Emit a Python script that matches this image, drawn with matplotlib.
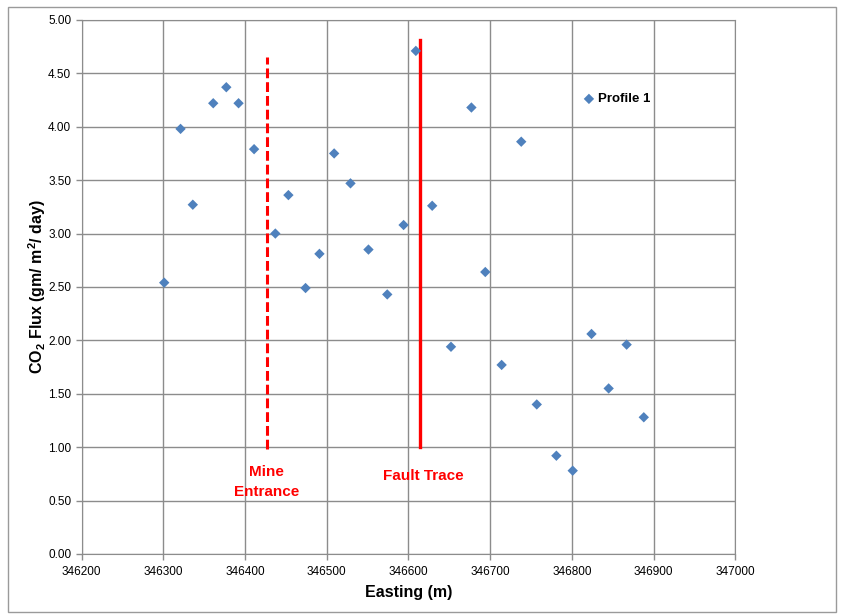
import matplotlib
matplotlib.use('Agg')
from matplotlib import pyplot as plt
from matplotlib.patches import Rectangle

plt.rcParams['font.family'] = ['Liberation Sans', 'DejaVu Sans']
plt.rcParams['mathtext.default'] = 'regular'

# Profile 1 survey points
easting = [346301, 346321, 346336, 346361, 346377, 346392, 346411, 346437,
           346453, 346474, 346491, 346509, 346529, 346551, 346574, 346594,
           346609, 346629, 346652, 346677, 346694, 346714, 346738, 346757,
           346781, 346801, 346824, 346845, 346867, 346888]
flujo_co2 = [2.54, 3.98, 3.27, 4.22, 4.37, 4.22, 3.79, 3.00,
             3.36, 2.49, 2.81, 3.75, 3.47, 2.85, 2.43, 3.08,
             4.71, 3.26, 1.94, 4.18, 2.64, 1.77, 3.86, 1.40,
             0.92, 0.78, 2.06, 1.55, 1.96, 1.28]

# vertical markers: mine entrance (dashed) and fault trace (solid)
entrada_mina_x = 346427
entrada_mina_y = [0.98, 4.65]
falla_x = 346614
falla_y = [1.0, 4.81]

xticks = [346200, 346300, 346400, 346500, 346600, 346700, 346800, 346900, 347000]
yticks = [0.0, 0.5, 1.0, 1.5, 2.0, 2.5, 3.0, 3.5, 4.0, 4.5, 5.0]

fig = plt.figure(figsize=(8.44, 6.15), dpi=100)
ax = fig.add_axes([0.0968, 0.0992, 0.7744, 0.8684])

gris = '#8c8c8c'
ax.set_xlim(346200, 347000)
ax.set_ylim(0, 5)
ax.set_xticks(xticks)
ax.set_yticks(yticks)
ax.set_xticklabels([str(t) for t in xticks])
ax.set_yticklabels(['%.2f' % t for t in yticks])
ax.grid(True, color=gris, linewidth=1.0)
ax.set_axisbelow(True)
for s in ax.spines.values():
    s.set_color(gris)
ax.tick_params(axis='both', colors=gris, labelcolor='black', labelsize=8.5,
               length=4, width=1)
ax.tick_params(axis='x', pad=5)

ax.scatter(easting, flujo_co2, marker='D', s=28, color='#4F81BD',
           edgecolors='none', label='Profile 1', zorder=3)

ax.plot([entrada_mina_x, entrada_mina_x], entrada_mina_y, color='red',
        linewidth=2.2, dashes=(3.2, 1.3), zorder=2)
ax.plot([falla_x, falla_x], falla_y, color='red', linewidth=2.4, zorder=2)

ax.text(346426, 0.77, 'Mine', color='red', fontsize=11, fontweight='bold',
        ha='center', va='center')
ax.text(346426, 0.58, 'Entrance', color='red', fontsize=11, fontweight='bold',
        ha='center', va='center')
ax.text(346618, 0.733, 'Fault Trace', color='red', fontsize=11,
        fontweight='bold', ha='center', va='center')

ax.legend(loc='center left', bbox_to_anchor=(0.768, 0.8515), frameon=False,
          handlelength=0.8, handletextpad=0.3, borderpad=0, borderaxespad=0,
          prop={'size': 9.5, 'weight': 'bold'}, scatterpoints=1)

ax.set_xlabel('Easting (m)', fontsize=11.5, fontweight='bold', labelpad=5)
ax.set_ylabel('CO$_2$ Flux (gm/ m$^2$/ day)', fontsize=11.5,
              fontweight='bold', labelpad=0)

# outer chart border
fig.patches.append(Rectangle((8 / 844, 3 / 615), 828 / 844, 605 / 615,
                             transform=fig.transFigure, fill=False,
                             edgecolor='#9a9a9a', linewidth=1))

fig.savefig('out.png', dpi=100)
